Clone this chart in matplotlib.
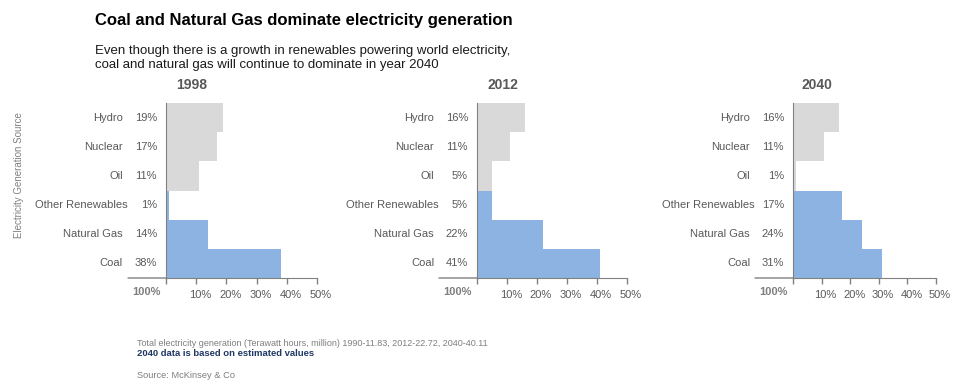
import matplotlib.pyplot as plt
import matplotlib.transforms as mtransforms

plt.rcParams['font.family'] = ['Liberation Sans', 'DejaVu Sans']

sources = ['Hydro', 'Nuclear', 'Oil', 'Other Renewables', 'Natural Gas', 'Coal']
years = ['1998', '2012', '2040']
share_1998 = [19, 17, 11, 1, 14, 38]
share_2012 = [16, 11, 5, 5, 22, 41]
share_2040 = [16, 11, 1, 17, 24, 31]
shares = [share_1998, share_2012, share_2040]
fossil_like = [True, True, True, False, False, False]
ticks = [0, 10, 20, 30, 40, 50]

W, H = 958, 387
gray_txt = '#595959'
grey_bar = '#d9d9d9'
blue_bar = '#8db3e2'

fig = plt.figure(figsize=(W / 100, H / 100), dpi=100)

# panel geometry in pixels: (axis left, axis right)
panels = [(166, 317), (477, 627), (793, 936)]
top, bottom = 103, 278


def px_axes(x0, x1):
    return fig.add_axes([x0 / W, (H - bottom) / H, (x1 - x0) / W, (bottom - top) / H])


for (x0, x1), year, vals in zip(panels, years, shares):
    ax = px_axes(x0, x1)
    ypos = list(range(len(sources)))[::-1]
    colors = [grey_bar if g else blue_bar for g in fossil_like]
    ax.barh(ypos, vals, height=1.0, color=colors, align='center')
    ax.set_xlim(0, 50)
    ax.set_ylim(-0.5, len(sources) - 0.5)
    ax.set_yticks([])
    ax.set_xticks(ticks)
    ax.set_xticklabels(['' if t == 0 else f'{t}%' for t in ticks])
    ax.tick_params(axis='x', colors='#808080', labelcolor=gray_txt, labelsize=8,
                   length=4, width=1, pad=5)
    for lbl in ax.get_xticklabels():
        lbl.set_transform(lbl.get_transform() + mtransforms.ScaledTranslation(4 / 100, 0, fig.dpi_scale_trans))
    for s in ['top', 'right']:
        ax.spines[s].set_visible(False)
    for s in ['left', 'bottom']:
        ax.spines[s].set_color('#808080')
    ax.spines['left'].set_bounds(-0.5, len(sources) - 0.5)

    for y, name, v in zip(ypos, sources, vals):
        ax.annotate(f'{v}%', xy=(0, y), xytext=(-9, 0), textcoords='offset pixels',
                    ha='right', va='center', fontsize=8, color=gray_txt)
        off = -38 if name == 'Other Renewables' else -43
        ax.annotate(name, xy=(0, y), xytext=(off, 0), textcoords='offset pixels',
                    ha='right', va='center', fontsize=8, color=gray_txt)

    # short base line and 100% total under the labels
    ax.annotate('', xy=(0, -0.5), xytext=(-38, 0), textcoords='offset pixels',
                xycoords='data', annotation_clip=False,
                arrowprops=dict(arrowstyle='-', color='#808080', lw=1,
                                shrinkA=0, shrinkB=0))
    ax.annotate('100%', xy=(0, -0.5), xytext=(-20, -14), textcoords='offset pixels',
                ha='center', va='center', fontsize=8, fontweight='bold',
                color='#7f7f7f', annotation_clip=False)
    ax.text((x0 + 0.17 * (x1 - x0)) / W,
            (H - 85) / H, year, transform=fig.transFigure, ha='center', va='center',
            fontsize=10, fontweight='bold', color=gray_txt)

fig.text(95 / W, (H - 20) / H, 'Coal and Natural Gas dominate electricity generation',
         fontsize=12, fontweight='bold', color='black', va='center')
fig.text(95 / W, (H - 58) / H,
         'Even though there is a growth in renewables powering world electricity,\n'
         'coal and natural gas will continue to dominate in year 2040',
         fontsize=9.5, color='#1a1a1a', va='center', linespacing=1.25)
fig.text(19 / W, (H - 175) / H, 'Electricity Generation Source', rotation=90,
         fontsize=7, color='#808080', ha='center', va='center')
fig.text(137 / W, (H - 343) / H,
         'Total electricity generation (Terawatt hours, million) 1990-11.83, 2012-22.72, 2040-40.11',
         fontsize=6.5, color='#7f7f7f', va='center')
fig.text(137 / W, (H - 353) / H, '2040 data is based on estimated values',
         fontsize=6.8, fontweight='bold', color='#1f3864', va='center')
fig.text(137 / W, (H - 375) / H, 'Source: McKinsey & Co',
         fontsize=6.7, color='#7f7f7f', va='center')

fig.savefig('out.png', dpi=100)
